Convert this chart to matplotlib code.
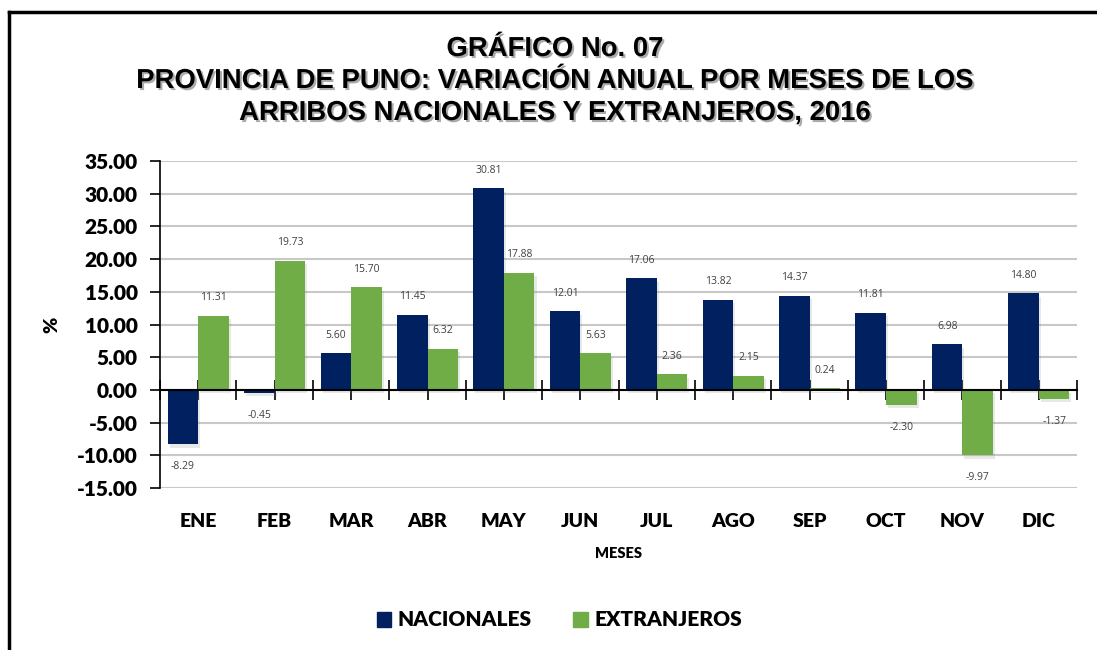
import matplotlib
matplotlib.use("Agg")
import matplotlib.pyplot as plt
import matplotlib.patheffects as pe
from matplotlib.lines import Line2D
from matplotlib.patches import Patch
import numpy as np

meses = ["ENE", "FEB", "MAR", "ABR", "MAY", "JUN", "JUL", "AGO", "SEP", "OCT", "NOV", "DIC"]
nacionales = [-8.29, -0.45, 5.60, 11.45, 30.81, 12.01, 17.06, 13.82, 14.37, 11.81, 6.98, 14.80]
extranjeros = [11.31, 19.73, 15.70, 6.32, 17.88, 5.63, 2.36, 2.15, 0.24, -2.30, -9.97, -1.37]
yticks = [-15, -10, -5, 0, 5, 10, 15, 20, 25, 30, 35]

navy = "#002060"
green = "#70AD47"
font = "Lato"
heavy = "heavy"

fig = plt.figure(figsize=(10.97, 6.5), dpi=100)
ax = fig.add_axes([0.1459, 0.2492, 0.8359, 0.5031])

x = np.arange(len(meses))
w = 0.4
shadow = [pe.SimplePatchShadow(offset=(1.5, -2.5), shadow_rgbFace="gray", alpha=0.18), pe.Normal()]
b1 = ax.bar(x - w / 2, nacionales, w, color=navy, zorder=3, path_effects=shadow)
b2 = ax.bar(x + w / 2, extranjeros, w, color=green, zorder=3, path_effects=shadow)

# data labels
for bars, vals in ((b1, nacionales), (b2, extranjeros)):
    for b, v in zip(bars, vals):
        off = 13 if v >= 0 else -16
        ax.annotate(f"{v:.2f}", (b.get_x() + b.get_width() / 2, v),
                    xytext=(0, off), textcoords="offset points",
                    ha="center", va="center", fontsize=7.5, color="#404040",
                    family="Open Sans")

ax.set_xlim(-0.5, 11.5)
ax.set_ylim(-15, 35)
ax.set_yticks(yticks)
ax.set_yticklabels([f"{t:.2f}" for t in yticks], fontsize=15, fontweight=heavy, family=font)
ax.yaxis.grid(True, color="#C8C8C8", linewidth=1.5, zorder=0)
ax.set_axisbelow(True)
ax.tick_params(axis="y", direction="out", length=7, width=1.2, pad=9)

for s in ["top", "right"]:
    ax.spines[s].set_visible(False)
ax.spines["left"].set_linewidth(1.2)
ax.spines["bottom"].set_position(("data", 0))
ax.spines["bottom"].set_linewidth(1.5)
ax.spines["bottom"].set_zorder(4)
ax.set_xticks(np.arange(-0.5, 11.51, 0.5))
ax.set_xticklabels([])
ax.tick_params(axis="x", direction="inout", length=14, width=1.2)

sec = ax.secondary_xaxis(0)
sec.set_xticks(x)
sec.set_xticklabels(meses, fontsize=14, fontweight=heavy, family=font)
sec.tick_params(length=0, pad=18)
sec.spines["bottom"].set_visible(False)
sec.set_xlabel("MESES", fontsize=10.5, fontweight=heavy, family=font, labelpad=12)

ax.set_ylabel("%", fontsize=14, fontweight=heavy, family=font, labelpad=12)

title_fx = [pe.withSimplePatchShadow(offset=(1.5, -1.5), shadow_rgbFace="#888888", alpha=0.7)]
titles = ["GRÁFICO No. 07",
          "PROVINCIA DE PUNO: VARIACIÓN ANUAL POR MESES DE LOS",
          "ARRIBOS NACIONALES Y EXTRANJEROS, 2016"]
for i, t in enumerate(titles):
    fig.text(0.506, 1 - (49 + i * 32) / 650, t, ha="center", va="center",
             fontsize=19.8, fontweight="bold", family="Liberation Sans",
             path_effects=title_fx)

handles = [Patch(color=navy, label="NACIONALES"), Patch(color=green, label="EXTRANJEROS")]
fig.legend(handles=handles, loc="center", bbox_to_anchor=(0.51, 1 - 620 / 650), ncol=2,
           frameon=False, prop={"family": font, "weight": heavy, "size": 15},
           handlelength=0.7, handleheight=0.7, handletextpad=0.3, columnspacing=2.0)

# outer frame (left and top)
fig.add_artist(Line2D([9 / 1097, 9 / 1097], [0, 1 - 12 / 650], transform=fig.transFigure,
                      color="black", linewidth=2.5))
fig.add_artist(Line2D([9 / 1097, 1], [1 - 12 / 650, 1 - 12 / 650], transform=fig.transFigure,
                      color="black", linewidth=2.5))

fig.savefig("out.png", dpi=100)
